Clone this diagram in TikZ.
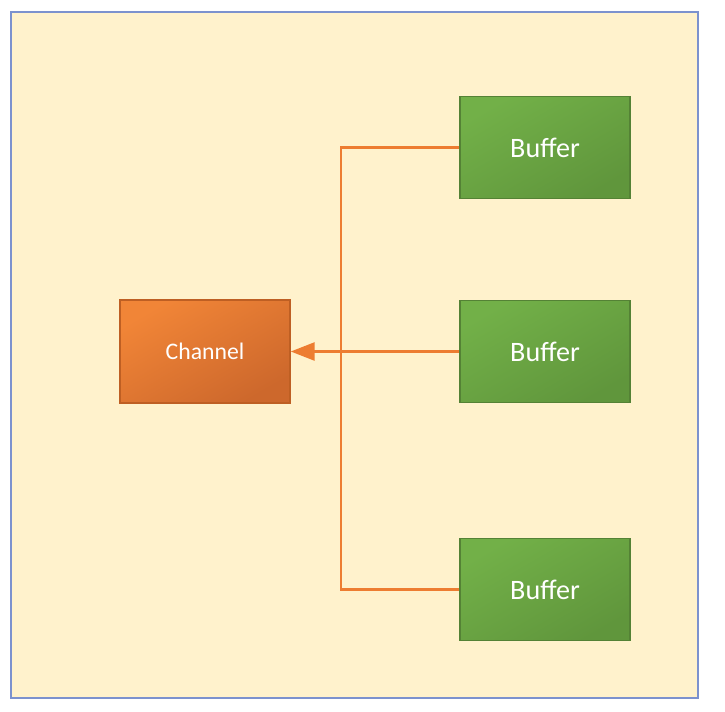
\documentclass[tikz,border=0pt]{standalone}
\usepackage{fontspec}
\setmainfont{Carlito}
\usepackage{tikz}
\usetikzlibrary{arrows.meta, positioning, calc}
\definecolor{bgyellow}{RGB}{255,242,204}
\definecolor{bgframe}{RGB}{124,146,206}
\definecolor{chantop}{RGB}{241,133,55}
\definecolor{chanbot}{RGB}{205,104,44}
\definecolor{chanedge}{RGB}{190,95,35}
\definecolor{buftop}{RGB}{114,176,72}
\definecolor{bufbot}{RGB}{96,150,60}
\definecolor{bufedge}{RGB}{84,130,53}
\definecolor{wireorange}{RGB}{237,125,49}
\tikzset{
  chanblock/.style={rectangle, draw=chanedge, line width=0.8pt,
    top color=chantop, bottom color=chanbot, shading angle=30,
    minimum width=3.4cm, minimum height=2.06cm,
    text=white, font=\fontsize{13.5}{16}\selectfont},
  bufblock/.style={rectangle, draw=bufedge, line width=0.8pt,
    top color=buftop, bottom color=bufbot, shading angle=30,
    minimum width=3.4cm, minimum height=2.04cm,
    text=white, font=\fontsize{16}{19}\selectfont},
  wire/.style={line width=1.5pt, color=wireorange},
  arrow/.style={wire, -{Triangle[length=0.48cm, width=0.36cm]}}
}
\begin{document}
\begin{tikzpicture}
  \useasboundingbox (0,0) rectangle (14.5,14.22);
  % Frame
  \draw[bgframe, fill=bgyellow, line width=0.9pt] (0.22,0.26) rectangle (13.96,13.98);
  % Blocks
  \node[chanblock] (chan) at (4.10,7.19) {Channel};
  \node[bufblock] (buf1) at (10.90,11.27) {Buffer};
  \node[bufblock] (buf2) at (10.90,7.19) {Buffer};
  \node[bufblock] (buf3) at (10.90,2.43) {Buffer};
  % Wires
  \coordinate (bus) at (6.82,0);
  \draw[wire] (buf1.west) -| (bus |- buf3.west) -- (buf3.west);
  \draw[arrow] (buf2.west) -- (chan.east);
\end{tikzpicture}
\end{document}
